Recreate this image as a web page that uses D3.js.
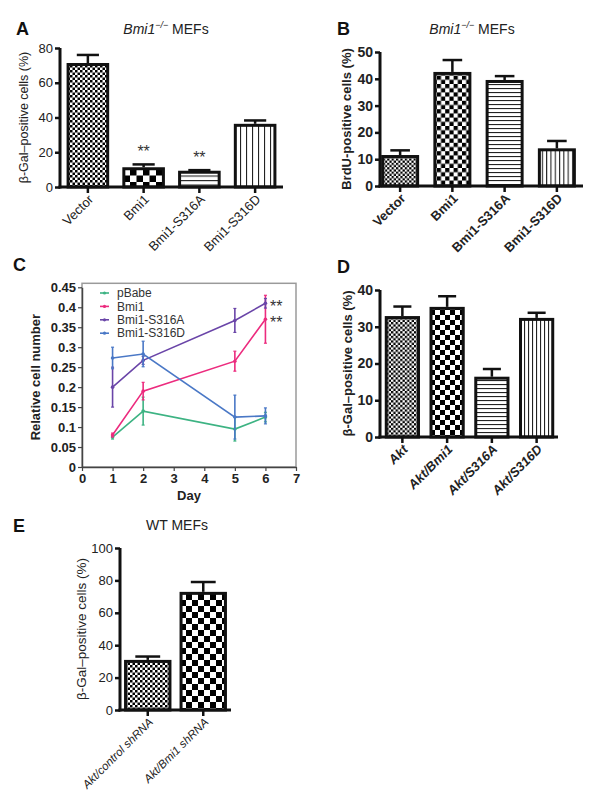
<!DOCTYPE html>
<html><head><meta charset="utf-8">
<script src="https://cdn.jsdelivr.net/npm/d3@7"></script>
<style>body{margin:0;background:#fff}svg{display:block;font-family:"Liberation Sans",Arial,sans-serif}</style>
</head><body><svg id="chart" width="600" height="805"></svg>
<script>
// ---------- data ----------
const abCategories = ["Vector","Bmi1","Bmi1-S316A","Bmi1-S316D"];
const aValues = [70.5, 10.5, 8.5, 35.5];
const aErrors = [5.5, 2.5, 1.2, 2.8];
const aTicks = [0,20,40,60,80];
const bValues = [11, 42, 39, 13.5];
const bErrors = [2.3, 5, 2, 3.3];
const bTicks = [0,10,20,30,40,50];
const cDays = [1,2,5,6];
const cSeriesNames = ["pBabe","Bmi1","Bmi1-S316A","Bmi1-S316D"];
const cPBabe = [0.075, 0.14, 0.095, 0.125];
const cPBabeErr = [0.005, 0.035, 0.03, 0.012];
const cBmi1 = [0.08, 0.19, 0.265, 0.37];
const cBmi1Err = [0.005, 0.022, 0.025, 0.06];
const cS316A = [0.2, 0.267, 0.367, 0.41];
const cS316AErr = [0.05, 0.01, 0.03, 0.012];
const cS316D = [0.273, 0.283, 0.125, 0.128];
const cS316DErr = [0.027, 0.032, 0.055, 0.02];
const cYTicks = [0,0.05,0.1,0.15,0.2,0.25,0.3,0.35,0.4,0.45];
const cXTicks = [0,1,2,3,4,5,6,7];
const dCategories = ["Akt","Akt/Bmi1","Akt/S316A","Akt/S316D"];
const dValues = [32.5, 35, 16, 32];
const dErrors = [3, 3.3, 2.5, 1.8];
const dTicks = [0,10,20,30,40];
const eCategories = ["Akt/control shRNA","Akt/Bmi1 shRNA"];
const eValues = [30, 72];
const eErrors = [3, 7];
const eTicks = [0,20,40,60,80,100];
const patternKinds = ["fine","checker","hlines","vlines"];
const seriesColors = ["#3db383","#ec2b7e","#6a45a8","#4a78c6"];

// ---------- drawing ----------
const svg = d3.select("#chart");
const defs = svg.append("defs");

function makePattern(id, kind, s){
  let p;
  if(kind==="fine" || kind==="checker"){
    p = defs.append("pattern").attr("id",id).attr("patternUnits","userSpaceOnUse").attr("width",2*s).attr("height",2*s);
    p.append("rect").attr("width",2*s).attr("height",2*s).attr("fill","#fff");
    p.append("rect").attr("width",s).attr("height",s).attr("fill","#000");
    p.append("rect").attr("x",s).attr("y",s).attr("width",s).attr("height",s).attr("fill","#000");
  } else if(kind==="hlines"){
    p = defs.append("pattern").attr("id",id).attr("patternUnits","userSpaceOnUse").attr("width",10).attr("height",s);
    p.append("rect").attr("width",10).attr("height",s).attr("fill","#fff");
    p.append("rect").attr("width",10).attr("height",1.1).attr("fill","#222");
  } else {
    p = defs.append("pattern").attr("id",id).attr("patternUnits","userSpaceOnUse").attr("width",s).attr("height",10);
    p.append("rect").attr("width",s).attr("height",10).attr("fill","#fff");
    p.append("rect").attr("width",1.1).attr("height",10).attr("fill","#222");
  }
}

function barPanel(cfg){
  const g = svg.append("g");
  const y = d3.scaleLinear().domain([0,cfg.max]).range([cfg.y0,cfg.y1]);
  const x = d3.scaleBand().domain(cfg.cats).range(cfg.xr).paddingInner(cfg.pi).paddingOuter(cfg.pi/2);
  const weight = cfg.bold ? "bold" : "normal";
  cfg.cats.forEach((c,i)=>{
    makePattern(cfg.id+"p"+i, patternKinds[i], cfg.psize[i]);
  });
  const bw = x.bandwidth();
  g.selectAll("rect.bar").data(cfg.vals).join("rect")
    .attr("x",(d,i)=>x(cfg.cats[i])).attr("y",d=>y(d))
    .attr("width",bw).attr("height",d=>y(0)-y(d))
    .attr("fill",(d,i)=>`url(#${cfg.id}p${i})`).attr("stroke","#111").attr("stroke-width",3);
  cfg.vals.forEach((v,i)=>{
    const cx = x(cfg.cats[i])+bw/2;
    const top = y(v+cfg.errs[i]);
    g.append("line").attr("x1",cx).attr("x2",cx).attr("y1",y(v)-1.5).attr("y2",top).attr("stroke","#111").attr("stroke-width",2.5);
    g.append("line").attr("x1",cx-bw*0.28).attr("x2",cx+bw*0.28).attr("y1",top).attr("y2",top).attr("stroke","#111").attr("stroke-width",2.5);
  });
  const ya = g.append("g").attr("transform",`translate(${cfg.axisX},0)`)
    .call(d3.axisLeft(y).tickValues(cfg.ticks).tickSize(5).tickSizeOuter(0).tickPadding(2));
  ya.select(".domain").remove();
  ya.selectAll(".tick line").attr("stroke","#111").attr("stroke-width",2.5);
  ya.selectAll(".tick text").attr("font-size",cfg.tickFont).attr("font-weight",weight).attr("fill","#222").attr("font-family","Liberation Sans, Arial, sans-serif");
  g.append("line").attr("x1",cfg.axisX).attr("x2",cfg.axisX).attr("y1",y(0)+1.5).attr("y2",y(cfg.max)).attr("stroke","#111").attr("stroke-width",3);
  const xa = g.append("g").attr("transform",`translate(0,${y(0)})`)
    .call(d3.axisBottom(x).tickSize(6).tickSizeOuter(0));
  xa.select(".domain").remove();
  xa.selectAll(".tick text").remove();
  xa.selectAll(".tick line").attr("stroke","#111").attr("stroke-width",2.5);
  g.append("line").attr("x1",cfg.axisX-1.5).attr("x2",cfg.xEnd).attr("y1",y(0)).attr("y2",y(0)).attr("stroke","#111").attr("stroke-width",3);
  cfg.cats.forEach(c=>{
    const cx = x(c)+bw/2;
    g.append("text").attr("transform",`translate(${cx+3},${y(0)+10}) rotate(-45)`)
      .attr("text-anchor","end").attr("dy","0.35em")
      .attr("font-size",cfg.labelFont).attr("font-weight",weight)
      .attr("font-style",cfg.italicLabels?"italic":"normal").attr("fill","#222").text(c);
  });
  g.append("text").attr("transform",`translate(${cfg.ylabX},${(y(0)+y(cfg.max))/2}) rotate(-90)`)
    .attr("text-anchor","middle").attr("font-size",cfg.ylabFont).attr("font-weight",weight).attr("fill","#222").text(cfg.ylab);
  (cfg.stars||[]).forEach(i=>{
    const cx = x(cfg.cats[i])+bw/2;
    g.append("text").attr("x",cx).attr("y",y(cfg.vals[i]+cfg.errs[i])+2).attr("dy","-0.6em")
     .attr("text-anchor","middle").attr("font-size",16).attr("fill","#333").text("**");
  });
  return {x,y};
}

function panelLetter(t,x,y){
  svg.append("text").attr("x",x).attr("y",y).attr("font-size",18).attr("font-weight","bold").attr("fill","#111").text(t);
}
function bmiTitle(cx,y){
  const t = svg.append("text").attr("x",cx).attr("y",y).attr("text-anchor","middle").attr("font-size",14).attr("fill","#222");
  t.append("tspan").attr("font-style","italic").text("Bmi1");
  t.append("tspan").attr("font-style","italic").attr("font-size",9).attr("dy",-6).text("\u2212/\u2212");
  t.append("tspan").attr("dy",6).text(" MEFs");
}

// Panel A
panelLetter("A",16,35);
bmiTitle(166,34);
barPanel({id:"a",cats:abCategories,vals:aValues,errs:aErrors,ticks:aTicks,max:80,y0:187,y1:48,
  axisX:60,xEnd:283,xr:[60,283],pi:0.29,bold:false,tickFont:13,labelFont:13,ylabFont:12.5,
  ylab:"\u03b2-Gal\u2013positive cells (%)",ylabX:28,psize:[2.5,6.5,4.5,6],stars:[1,2]});

// Panel B
panelLetter("B",337,35);
bmiTitle(472,34);
barPanel({id:"b",cats:abCategories,vals:bValues,errs:bErrors,ticks:bTicks,max:50,y0:186,y1:52,
  axisX:380,xEnd:583,xr:[374,583],pi:0.33,bold:true,tickFont:14,labelFont:13,ylabFont:13,
  ylab:"BrdU-positive cells (%)",ylabX:351,psize:[2.2,4.2,4,4.3]});

// Panel C
panelLetter("C",13,271);
(function(){
  const g = svg.append("g");
  const x = d3.scaleLinear().domain([0,7]).range([82,296]);
  const y = d3.scaleLinear().domain([0,0.45]).range([467,287.3]);
  g.append("rect").attr("x",x(0)).attr("y",y(0.46)).attr("width",x(7)-x(0)).attr("height",y(0)-y(0.46))
    .attr("fill","none").attr("stroke","#9a9a9a").attr("stroke-width",1.5);
  const ya = g.append("g").attr("transform",`translate(${x(0)},0)`).call(d3.axisLeft(y).tickValues(cYTicks).tickSize(4).tickSizeOuter(0).tickPadding(2).tickFormat(d=>String(+d.toFixed(2))));
  ya.select(".domain").attr("stroke","#444").attr("stroke-width",1.5);
  ya.selectAll(".tick line").attr("stroke","#444").attr("stroke-width",1.2);
  ya.selectAll(".tick text").attr("font-size",13).attr("font-weight","bold").attr("fill","#222").attr("font-family","Liberation Sans, Arial, sans-serif");
  const xa = g.append("g").attr("transform",`translate(0,${y(0)})`).call(d3.axisBottom(x).tickValues(cXTicks).tickSize(4).tickSizeOuter(0).tickPadding(3).tickFormat(d3.format("d")));
  xa.select(".domain").attr("stroke","#444").attr("stroke-width",1.5);
  xa.selectAll(".tick line").attr("stroke","#444").attr("stroke-width",1.2);
  xa.selectAll(".tick text").attr("font-size",13).attr("font-weight","bold").attr("fill","#222").attr("font-family","Liberation Sans, Arial, sans-serif");
  g.append("text").attr("x",(x(0)+x(7))/2).attr("y",500).attr("text-anchor","middle").attr("font-size",13).attr("font-weight","bold").attr("fill","#222").text("Day");
  g.append("text").attr("transform",`translate(40,${(y(0)+y(0.45))/2}) rotate(-90)`).attr("text-anchor","middle")
    .attr("font-size",13).attr("font-weight","bold").attr("fill","#222").text("Relative cell number");
  const series = [[cPBabe,cPBabeErr],[cBmi1,cBmi1Err],[cS316A,cS316AErr],[cS316D,cS316DErr]];
  const line = d3.line().x((d,i)=>x(cDays[i])).y(d=>y(d));
  series.forEach(([vals,errs],k)=>{
    const col = seriesColors[k];
    g.append("path").attr("d",line(vals)).attr("fill","none").attr("stroke",col).attr("stroke-width",1.6);
    vals.forEach((v,i)=>{
      const cx = x(cDays[i]);
      g.append("line").attr("x1",cx).attr("x2",cx).attr("y1",y(v-errs[i])).attr("y2",y(v+errs[i])).attr("stroke",col).attr("stroke-width",1.6);
      g.append("line").attr("x1",cx-1.5).attr("x2",cx+1.5).attr("y1",y(v-errs[i])).attr("y2",y(v-errs[i])).attr("stroke",col).attr("stroke-width",1.2);
      g.append("line").attr("x1",cx-1.5).attr("x2",cx+1.5).attr("y1",y(v+errs[i])).attr("y2",y(v+errs[i])).attr("stroke",col).attr("stroke-width",1.2);
      g.append("circle").attr("cx",cx).attr("cy",y(v)).attr("r",1.8).attr("fill",col);
    });
  });
  cSeriesNames.forEach((n,k)=>{
    const ly = 293 + k*13.4;
    g.append("line").attr("x1",100).attr("x2",109).attr("y1",ly).attr("y2",ly).attr("stroke",seriesColors[k]).attr("stroke-width",1.6);
    g.append("circle").attr("cx",104.5).attr("cy",ly).attr("r",1.6).attr("fill",seriesColors[k]);
    g.append("text").attr("x",117).attr("y",ly).attr("dy","0.35em").attr("font-size",12).attr("fill","#333").text(n);
  });
  [cS316A, cBmi1].forEach(vals=>{
    g.append("text").attr("x",270).attr("y",y(vals[3])).attr("dy","0.55em").attr("font-size",16).attr("fill","#333").text("**");
  });
})();

// Panel D
panelLetter("D",337,272.5);
barPanel({id:"d",cats:dCategories,vals:dValues,errs:dErrors,ticks:dTicks,max:40,y0:437,y1:290,
  axisX:380,xEnd:558,xr:[380,559],pi:0.28,bold:true,tickFont:14,labelFont:13,ylabFont:13,italicLabels:true,
  ylab:"\u03b2-Gal\u2013positive cells (%)",ylabX:352,psize:[2.3,5,4,4]});

// Panel E
panelLetter("E",13,531.5);
svg.append("text").attr("x",177).attr("y",530).attr("text-anchor","middle").attr("font-size",14).attr("fill","#222").text("WT MEFs");
barPanel({id:"e",cats:eCategories,vals:eValues,errs:eErrors,ticks:eTicks,max:100,y0:710,y1:548,
  axisX:120,xEnd:231,xr:[120,231],pi:0.2,bold:false,tickFont:13,labelFont:11.5,ylabFont:13.5,italicLabels:true,
  ylab:"\u03b2-Gal\u2013positive cells (%)",ylabX:86,psize:[2.5,6,4,4]});
</script></body></html>
